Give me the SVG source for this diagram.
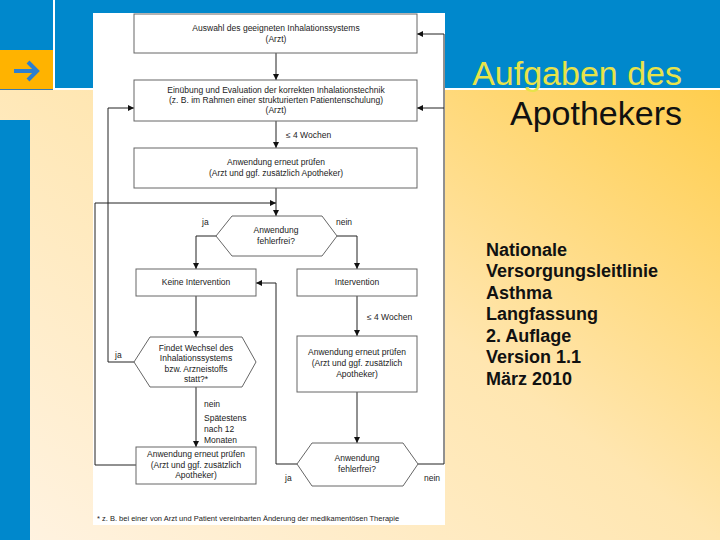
<svg xmlns="http://www.w3.org/2000/svg" width="720" height="540" viewBox="0 0 720 540">
<defs>
<linearGradient id="bg" x1="0" y1="1" x2="1" y2="0">
<stop offset="0" stop-color="#FFF3E2"/>
<stop offset="0.5" stop-color="#FFE6B0"/>
<stop offset="1" stop-color="#FFC93A"/>
</linearGradient>
<marker id="ah" markerWidth="6" markerHeight="6" refX="6" refY="3" orient="auto" markerUnits="userSpaceOnUse">
<path d="M0,0 L6,3 L0,6 z" fill="#111"/>
</marker>
<style>
.box{fill:#fff;stroke:#666;stroke-width:1}
.t{font-family:"Liberation Sans",Arial,sans-serif;font-size:8.5px;fill:#222;text-anchor:middle}
.l{font-family:"Liberation Sans",Arial,sans-serif;font-size:8.5px;fill:#222}
.c{fill:none;stroke:#222;stroke-width:1}
.side{font-family:"Liberation Sans",Arial,sans-serif;font-size:18px;font-weight:bold;fill:#111}
</style>
</defs>
<!-- background -->
<rect x="0" y="0" width="720" height="540" fill="url(#bg)"/>
<rect x="53" y="0" width="667" height="90" fill="#fff"/>
<rect x="55" y="0" width="665" height="88" fill="#0088CC"/>
<rect x="0" y="0" width="53" height="50" fill="#0088CC"/>
<rect x="0" y="50" width="53" height="40" fill="#FFB300"/>
<line x1="0" y1="89.5" x2="53" y2="89.5" stroke="#3A7AB0" stroke-width="1"/>
<path d="M14,71 H36 M28,62 L37,71 L28,80" fill="none" stroke="#2E7FD0" stroke-width="4" stroke-linejoin="miter"/>
<rect x="0" y="120" width="30" height="420" fill="#0088CC"/>
<text x="682" y="85" font-family="Liberation Sans,Arial,sans-serif" font-size="34" fill="#E8E34A" text-anchor="end">Aufgaben des</text>
<text x="682" y="125" font-family="Liberation Sans,Arial,sans-serif" font-size="34" fill="#111" text-anchor="end">Apothekers</text>
<g id="sideinfo">
<text class="side" x="486" y="256">Nationale</text>
<text class="side" x="486" y="277">Versorgungsleitlinie</text>
<text class="side" x="486" y="299">Asthma</text>
<text class="side" x="486" y="320">Langfassung</text>
<text class="side" x="486" y="342">2. Auflage</text>
<text class="side" x="486" y="363">Version 1.1</text>
<text class="side" x="486" y="385">März 2010</text>
</g>
<!-- diagram panel -->
<rect x="93" y="13" width="352" height="512" fill="#fff"/>
<g id="connectors">
<path class="c" d="M276,53 V80" marker-end="url(#ah)"/>
<path class="c" d="M276,121 V148" marker-end="url(#ah)"/>
<path class="c" d="M276,188 V216" marker-end="url(#ah)"/>
<path class="c" d="M216,236 H196 V269" marker-end="url(#ah)"/>
<path class="c" d="M337,236 H357 V269" marker-end="url(#ah)"/>
<path class="c" d="M357,296 V336" marker-end="url(#ah)"/>
<path class="c" d="M357,392 V443" marker-end="url(#ah)"/>
<path class="c" d="M297,464 H276 V283 H256" marker-end="url(#ah)"/>
<path class="c" d="M418,464 H444 V34 H417" marker-end="url(#ah)"/>
<path class="c" d="M444,108 H417" marker-end="url(#ah)"/>
<path class="c" d="M196,296 V337" marker-end="url(#ah)"/>
<path class="c" d="M134,362 H108 V108 H134" marker-end="url(#ah)"/>
<path class="c" d="M196,387 V447" marker-end="url(#ah)"/>
<path class="c" d="M136,465 H95 V203 H276" marker-end="url(#ah)"/>
</g>
<g id="n1">
<rect class="box" x="134" y="14" width="283" height="39"/>
<text class="t" x="276" y="31">Auswahl des geeigneten Inhalationssystems</text>
<text class="t" x="276" y="42">(Arzt)</text>
</g>
<g id="n2">
<rect class="box" x="134" y="80" width="283" height="41"/>
<text class="t" x="276" y="93">Einübung und Evaluation der korrekten Inhalationstechnik</text>
<text class="t" x="276" y="103">(z. B. im Rahmen einer strukturierten Patientenschulung)</text>
<text class="t" x="276" y="113">(Arzt)</text>
</g>
<g id="n3">
<rect class="box" x="134" y="148" width="283" height="40"/>
<text class="t" x="276" y="165">Anwendung erneut prüfen</text>
<text class="t" x="276" y="176">(Arzt und ggf. zusätzlich Apotheker)</text>
</g>
<g id="n4">
<polygon class="box" points="232,216 322,216 337,236 322,256 232,256 216,236"/>
<text class="t" x="276" y="233">Anwendung</text>
<text class="t" x="276" y="244">fehlerfrei?</text>
</g>
<g id="n5">
<rect class="box" x="136" y="269" width="120" height="27"/>
<text class="t" x="196" y="285">Keine Intervention</text>
</g>
<g id="n6">
<rect class="box" x="297" y="269" width="120" height="27"/>
<text class="t" x="357" y="285">Intervention</text>
</g>
<g id="n7">
<polygon class="box" points="150,337 242,337 256,362 242,387 150,387 134,362"/>
<text class="t" x="196" y="351">Findet Wechsel des</text>
<text class="t" x="196" y="361">Inhalationssystems</text>
<text class="t" x="196" y="372">bzw. Arzneistoffs</text>
<text class="t" x="196" y="382">statt?*</text>
</g>
<g id="n8">
<rect class="box" x="297" y="336" width="120" height="56"/>
<text class="t" x="357" y="355">Anwendung erneut prüfen</text>
<text class="t" x="357" y="366">(Arzt und ggf. zusätzlich</text>
<text class="t" x="357" y="377">Apotheker)</text>
</g>
<g id="n9">
<rect class="box" x="136" y="447" width="120" height="37"/>
<text class="t" x="196" y="457">Anwendung erneut prüfen</text>
<text class="t" x="196" y="468">(Arzt und ggf. zusätzlich</text>
<text class="t" x="196" y="478">Apotheker)</text>
</g>
<g id="n10">
<polygon class="box" points="312,443 403,443 418,464 403,486 312,486 297,464"/>
<text class="t" x="357" y="461">Anwendung</text>
<text class="t" x="357" y="472">fehlerfrei?</text>
</g>
<g id="labels">
<text class="l" x="202" y="225">ja</text>
<text class="l" x="336" y="225">nein</text>
<text class="l" x="286" y="138">≤ 4 Wochen</text>
<text class="l" x="367" y="320">≤ 4 Wochen</text>
<text class="l" x="115" y="358">ja</text>
<text class="l" x="204" y="407">nein</text>
<text class="l" x="204" y="421">Spätestens</text>
<text class="l" x="204" y="432">nach 12</text>
<text class="l" x="204" y="443">Monaten</text>
<text class="l" x="285" y="481">ja</text>
<text class="l" x="424" y="481">nein</text>
<text class="l" x="97" y="521" style="font-size:7.5px">* z. B. bei einer von Arzt und Patient vereinbarten Änderung der medikamentösen Therapie</text>
</g>
</svg>
